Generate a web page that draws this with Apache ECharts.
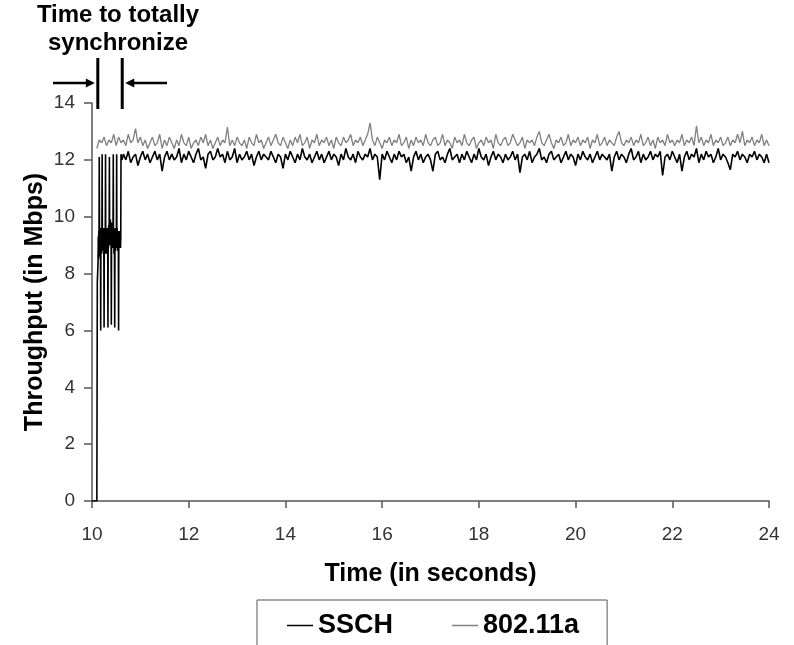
<!DOCTYPE html>
<html>
<head>
<meta charset="utf-8">
<script src="https://cdn.jsdelivr.net/npm/echarts@6/dist/echarts.min.js"></script>
<style>
html,body{margin:0;padding:0;background:#fff;}
#chart{width:794px;height:645px;}
</style>
</head>
<body>
<div id="chart"></div>
<script>
// ---- axis ticks ----
const xTicks = [10, 12, 14, 16, 18, 20, 22, 24];
const yTicks = [0, 2, 4, 6, 8, 10, 12, 14];
const seriesNames = ['SSCH', '802.11a'];

// ---- SSCH synchronization phase (time, Mbps) ----
const sschSyncT = [10.00,10.10,10.11,10.12,10.125,10.13,10.135,10.14,10.145,10.15,10.155,10.16,10.165,10.17,10.175,10.18,10.185,10.19,10.195,10.20,10.205,10.21,10.215,10.22,10.225,10.23,10.235,10.24,10.245,10.25,10.255,10.26,10.265,10.27,10.275,10.28,10.285,10.29,10.295,10.30,10.305,10.31,10.315,10.32,10.325,10.33,10.335,10.34,10.345,10.35,10.355,10.36,10.365,10.37,10.375,10.38,10.385,10.39,10.395,10.40,10.405,10.41,10.415,10.42,10.425,10.43,10.435,10.44,10.445,10.45,10.455,10.46,10.465,10.47,10.475,10.48,10.485,10.49,10.495,10.50,10.505,10.51,10.515,10.52,10.525,10.53,10.535,10.54,10.545,10.55,10.555,10.56,10.565,10.57,10.575,10.58,10.585,10.59,10.595,10.60,10.62];
const sschSyncV = [0,0,7.7,7.7,8.4,9.3,8.5,9.5,8.7,12.1,9.6,8.6,9.5,8.7,9.6,6.0,9.6,8.8,9.6,8.7,9.5,12.2,8.9,9.6,8.8,9.6,8.9,9.5,8.8,6.1,9.6,8.8,9.5,8.7,9.6,12.2,8.8,9.5,8.7,9.6,8.8,9.5,8.7,9.6,8.9,6.1,9.6,8.9,9.7,9.0,9.7,12.1,9.1,9.8,9.0,9.9,9.1,9.8,9.0,6.2,9.8,9.0,9.7,8.9,9.7,9.0,9.6,12.2,8.9,9.6,8.7,9.5,8.8,6.1,9.5,8.8,9.6,8.9,9.6,8.9,9.6,12.2,8.9,9.6,8.8,9.5,8.8,9.5,8.9,6.0,9.5,8.9,9.5,8.9,9.4,9.0,9.4,8.9,9.3,12.2,12.0];

// ---- SSCH steady phase: samples every 0.05 s from 10.65 s ----
const sschStart = 10.65;
const sschStep = 0.05;
const sschSteady = [
12.2,12.0,12.3,11.9,12.1,12.2,11.8,12.1,12.3,12.0,12.2,11.9,12.1,12.3,12.0,12.2,11.6,12.1,12.3,12.0,
12.2,12.0,12.1,12.4,11.9,12.2,12.0,12.3,12.1,11.9,12.2,12.4,12.0,12.1,11.7,12.2,12.3,12.0,12.1,12.4,
12.1,12.2,11.9,12.3,12.0,12.1,12.4,11.9,12.2,12.0,12.1,12.3,12.0,12.2,11.8,12.1,12.3,12.0,12.2,12.1,
12.0,12.3,12.1,11.9,12.2,12.1,11.7,12.2,12.0,12.3,12.1,11.9,12.2,12.0,12.4,12.1,12.0,12.2,11.9,12.1,
12.3,12.0,12.2,11.9,12.1,12.3,12.0,12.2,12.1,11.8,12.2,12.0,12.4,12.1,12.0,12.2,11.9,12.3,12.1,12.0,
12.2,12.1,12.4,12.0,12.2,12.1,11.3,12.2,12.0,12.3,12.1,11.9,12.2,12.0,12.3,12.1,12.2,11.9,12.1,11.6,
12.1,12.3,12.0,12.2,11.9,12.1,12.2,12.0,11.6,12.2,12.3,12.0,12.1,11.9,12.2,12.4,12.0,12.1,12.2,11.9,
12.2,12.0,12.3,12.1,11.9,12.2,12.0,12.4,12.1,12.0,12.2,11.8,12.1,12.3,12.0,12.2,12.1,11.9,12.2,12.0,
12.1,12.3,12.0,12.2,11.55,12.1,12.2,12.0,12.3,11.9,12.1,12.2,12.4,12.0,12.1,11.9,12.2,12.3,12.0,12.1,
12.2,11.9,12.1,12.3,12.0,12.2,12.1,11.8,12.2,12.0,12.3,12.1,12.0,12.2,11.9,12.1,12.3,12.0,12.2,12.1,
12.0,12.2,11.6,12.1,12.3,12.0,12.2,12.1,11.9,12.2,12.4,12.0,12.1,12.3,11.9,12.2,12.0,12.1,12.3,12.0,
12.2,12.1,12.3,11.45,12.1,12.2,12.0,12.3,12.1,11.9,12.2,11.6,12.1,12.3,12.0,12.2,12.1,12.4,11.9,12.2,
12.0,12.3,12.1,12.2,11.9,12.1,12.4,12.0,12.2,12.1,11.9,11.65,12.2,12.1,12.3,12.0,12.2,12.1,11.9,12.2,
12.1,12.3,12.0,12.2,12.1,11.9,12.2,11.9
];

// ---- 802.11a: samples every 0.05 s from 10.10 s ----
const wlanStart = 10.10;
const wlanStep = 0.05;
const wlanValues = [
12.4,12.7,12.6,12.8,12.5,12.7,12.6,12.9,12.5,12.8,12.6,12.7,12.5,12.9,12.6,12.7,13.1,12.6,12.8,12.5,
12.7,12.4,12.6,12.8,12.5,12.6,12.9,12.4,12.7,12.5,12.8,12.6,12.4,12.7,12.5,12.9,12.6,12.5,12.8,12.4,
12.6,12.7,12.5,12.8,12.6,12.9,12.5,12.7,12.4,12.6,12.8,12.5,12.7,12.6,13.15,12.5,12.7,12.5,12.8,12.6,
12.5,12.7,12.4,12.8,12.6,12.5,12.9,12.6,12.7,12.4,12.6,12.8,12.5,12.7,12.9,12.6,12.5,12.8,12.6,12.4,
12.7,12.5,12.8,12.6,12.9,12.5,12.6,12.8,12.4,12.7,12.6,12.9,12.5,12.7,12.6,12.8,12.5,12.7,12.4,12.8,
12.6,12.5,12.8,12.6,12.7,12.9,12.5,12.7,12.6,12.8,12.5,12.7,12.9,13.3,12.7,12.5,12.8,12.6,12.4,12.7,
12.6,12.8,12.5,12.7,12.6,12.9,12.5,12.6,12.8,12.4,12.7,12.5,12.8,12.6,12.7,12.5,12.9,12.6,12.5,12.7,
12.8,12.5,12.6,12.9,12.5,12.7,12.6,12.4,12.8,12.6,12.7,12.5,12.9,12.6,12.5,12.7,12.8,12.4,12.6,12.7,
12.5,12.8,12.6,12.7,12.4,12.9,12.6,12.5,12.7,12.8,12.5,12.6,12.9,12.7,12.5,12.6,12.8,12.4,12.7,12.6,
12.7,12.5,12.8,13.0,12.6,12.5,12.7,12.9,12.6,12.4,12.7,12.6,12.8,12.5,12.6,12.9,12.5,12.7,12.6,12.8,
12.5,12.7,12.6,12.8,12.4,12.7,12.6,12.9,12.5,12.6,12.8,12.5,12.7,12.6,12.5,12.8,13.0,12.6,12.5,12.7,
12.6,12.8,12.5,12.7,12.6,12.9,12.5,12.6,12.8,12.5,12.7,12.4,12.8,12.6,12.7,12.5,12.9,12.6,12.7,12.5,
12.7,12.6,12.9,12.5,12.7,12.6,12.8,12.5,13.2,12.6,12.8,12.5,12.7,12.6,12.9,12.5,12.7,12.6,12.8,12.5,
12.6,12.8,12.5,12.7,12.6,12.9,12.6,13.0,12.5,12.7,12.6,12.8,12.5,12.7,12.6,12.9,12.5,12.7,12.5
];

// ---- annotation: time window of synchronization ----
const syncBegin = 10.12;
const syncEnd = 10.625;

// build series data
const r3 = v => Math.round(v * 1000) / 1000;
const sschData = sschSyncT.map((t, i) => [t, sschSyncV[i]])
  .concat(sschSteady.map((v, i) => [r3(sschStart + i * sschStep), v]));
const wlanData = wlanValues.map((v, i) => [r3(wlanStart + i * wlanStep), v]);

const FONT = 'Liberation Sans, Arial, sans-serif';
const chart = echarts.init(document.getElementById('chart'), null, {renderer: 'canvas'});

const option = {
  animation: false,
  backgroundColor: '#fff',
  grid: {left: 92, right: 25, top: 103, bottom: 144, containLabel: false},
  xAxis: {
    type: 'value',
    min: xTicks[0], max: xTicks[xTicks.length - 1], interval: 2,
    name: 'Time (in seconds)',
    nameLocation: 'middle',
    nameGap: 61,
    nameMoveOverlap: false,
    nameTextStyle: {fontFamily: FONT, fontSize: 25, fontWeight: 'bold', color: '#000'},
    axisLine: {show: true, onZero: false, lineStyle: {color: '#555', width: 1.5}},
    axisTick: {show: true, length: 7, inside: false, lineStyle: {color: '#555', width: 1.5}},
    axisLabel: {margin: 24, fontFamily: FONT, fontSize: 19, color: '#333'},
    splitLine: {show: false}
  },
  yAxis: {
    type: 'value',
    min: yTicks[0], max: yTicks[yTicks.length - 1], interval: 2,
    name: 'Throughput (in Mbps)',
    nameLocation: 'middle',
    nameGap: 44,
    nameMoveOverlap: false,
    nameRotate: 90,
    nameTextStyle: {fontFamily: FONT, fontSize: 25, fontWeight: 'bold', color: '#000'},
    axisLine: {show: true, lineStyle: {color: '#555', width: 1.5}},
    axisTick: {show: true, length: 8, inside: false, lineStyle: {color: '#555', width: 1.5}},
    axisLabel: {margin: 17, fontFamily: FONT, fontSize: 19, color: '#333'},
    splitLine: {show: false}
  },
  legend: {
    data: seriesNames,
    left: 257, top: 600,
    orient: 'horizontal',
    icon: 'rect',
    itemWidth: 26, itemHeight: 1.5,
    itemGap: 59,
    padding: [12, 28, 30, 30],
    borderColor: '#555', borderWidth: 1,
    selectedMode: false,
    textStyle: {fontFamily: FONT, fontSize: 27, fontWeight: 'bold', color: '#000'}
  },
  series: [
    {
      name: seriesNames[0], type: 'line', data: sschData, showSymbol: false, symbol: 'none',
      z: 4, lineStyle: {color: '#000', width: 1.6}, itemStyle: {color: '#000'}
    },
    {
      name: seriesNames[1], type: 'line', data: wlanData, showSymbol: false, symbol: 'none',
      z: 3, lineStyle: {color: '#808080', width: 1.3}, itemStyle: {color: '#808080'}
    }
  ]
};
chart.setOption(option);

// annotation drawn relative to data times
const xb = chart.convertToPixel({xAxisIndex: 0}, syncBegin);
const xe = chart.convertToPixel({xAxisIndex: 0}, syncEnd);
const ay = 83;
chart.setOption({
  graphic: [
    {type: 'text', x: 118, y: 1, style: {
      text: 'Time to totally\nsynchronize', align: 'center', verticalAlign: 'top',
      font: 'bold 24px ' + FONT, lineHeight: 28, fill: '#000'}},
    {type: 'line', shape: {x1: xb, y1: 58, x2: xb, y2: 109}, style: {stroke: '#000', lineWidth: 3}},
    {type: 'line', shape: {x1: xe, y1: 58, x2: xe, y2: 109}, style: {stroke: '#000', lineWidth: 3}},
    {type: 'line', shape: {x1: 53, y1: ay, x2: xb - 8, y2: ay}, style: {stroke: '#000', lineWidth: 2.5}},
    {type: 'polygon', shape: {points: [[xb - 3, ay], [xb - 12, ay - 4.5], [xb - 12, ay + 4.5]]}, style: {fill: '#000'}},
    {type: 'line', shape: {x1: 167, y1: ay, x2: xe + 8, y2: ay}, style: {stroke: '#000', lineWidth: 2.5}},
    {type: 'polygon', shape: {points: [[xe + 3, ay], [xe + 12, ay - 4.5], [xe + 12, ay + 4.5]]}, style: {fill: '#000'}}
  ]
});
</script>
</body>
</html>
